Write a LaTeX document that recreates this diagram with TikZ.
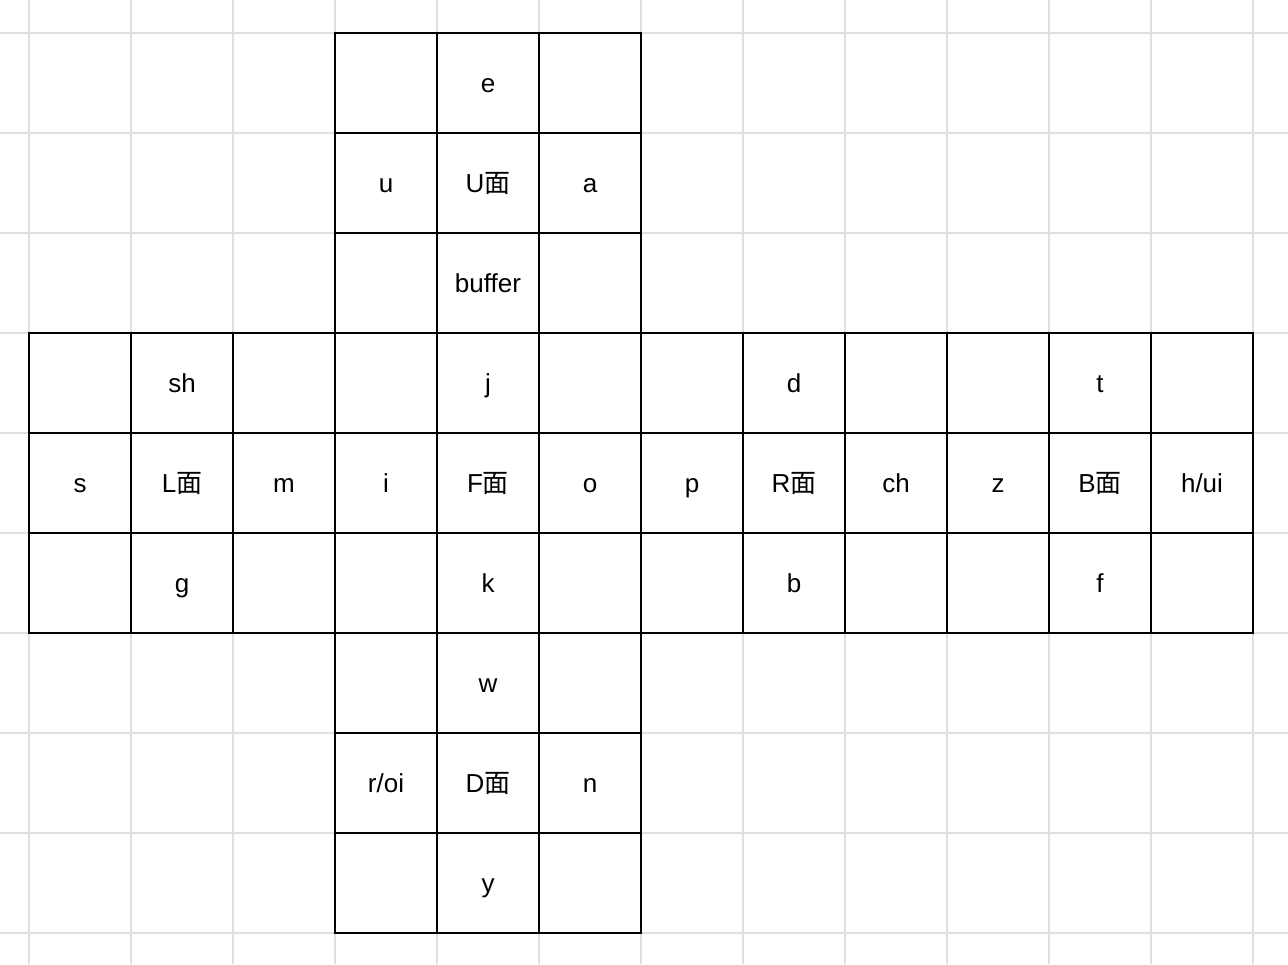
\documentclass[tikz,border=0pt]{standalone}
\usepackage{fontspec}
\setmainfont{Liberation Sans}
\newfontfamily\cjk{Noto Sans CJK SC}
\tikzset{
  gridline/.style={draw=black!12, line width=2pt},
  cell/.style={draw=black, line width=2pt, minimum width=102pt, minimum height=100pt,
    inner sep=0pt, outer sep=0pt, anchor=center, text height=20pt, text depth=2pt,
    font=\fontsize{26}{30}\selectfont},
}
\newcommand{\mian}{{\cjk 面}}
\begin{document}
\begin{tikzpicture}[x=1pt,y=-1pt]
\useasboundingbox (0,0) rectangle (1288,964);
\fill[white] (0,0) rectangle (1288,964);
\foreach \i in {0,...,12} \draw[gridline] ({29+102*\i},0) -- ({29+102*\i},964);
\foreach \j in {0,...,9} \draw[gridline] (0,{33+100*\j}) -- (1288,{33+100*\j});
\foreach \r/\c/\t in {
  0/3/{},0/4/e,0/5/{},
  1/3/u,1/4/{U\mian},1/5/a,
  2/3/{},2/4/buffer,2/5/{},
  3/0/{},3/1/sh,3/2/{},3/3/{},3/4/j,3/5/{},3/6/{},3/7/d,3/8/{},3/9/{},3/10/t,3/11/{},
  4/0/s,4/1/{L\mian},4/2/m,4/3/i,4/4/{F\mian},4/5/o,4/6/p,4/7/{R\mian},4/8/ch,4/9/z,4/10/{B\mian},4/11/{h/ui},
  5/0/{},5/1/g,5/2/{},5/3/{},5/4/k,5/5/{},5/6/{},5/7/b,5/8/{},5/9/{},5/10/f,5/11/{},
  6/3/{},6/4/w,6/5/{},
  7/3/{r/oi},7/4/{D\mian},7/5/n,
  8/3/{},8/4/y,8/5/{}}
  \node[cell] (c\r-\c) at ({80+102*\c},{83+100*\r}) {\t};
\end{tikzpicture}
\end{document}
